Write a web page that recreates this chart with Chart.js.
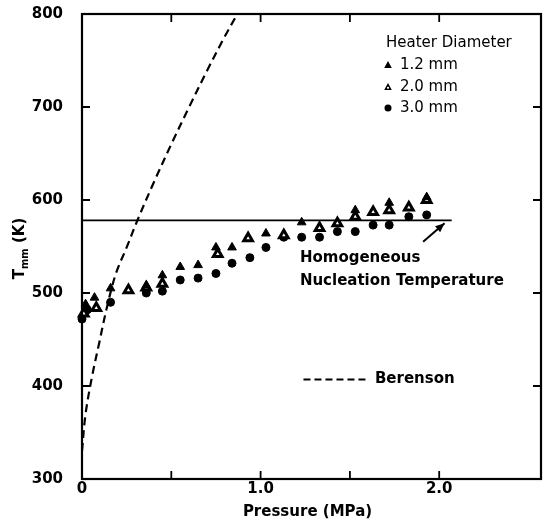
<!DOCTYPE html>
<html>
<head>
<meta charset="utf-8">
<script src="https://cdn.jsdelivr.net/npm/chart.js@4.4.1/dist/chart.umd.min.js"></script>
<style>
  html, body { margin: 0; padding: 0; background: #fff; }
  #wrap { width: 549px; height: 523px; position: relative; }
</style>
</head>
<body>
<div id="wrap"><canvas id="tminChart"></canvas></div>
<script>
// Data (pressure in MPa, temperature in K)
const p12 = [0.02, 0.07, 0.16, 0.36, 0.45, 0.55, 0.65, 0.75, 0.84, 1.03, 1.23, 1.53, 1.72, 1.93];
const t12 = [488, 495, 505, 508, 519, 528, 530, 549, 549, 564, 576, 589, 597, 603];

const p20 = [0.01, 0.08, 0.26, 0.36, 0.45, 0.76, 0.93, 1.13, 1.33, 1.43, 1.53, 1.63, 1.72, 1.83, 1.93];
const t20 = [478, 484, 503, 506, 510, 542, 559, 562, 570, 575, 582, 587, 589, 592, 600];

const p30 = [0.00, 0.03, 0.16, 0.36, 0.45, 0.55, 0.65, 0.75, 0.84, 0.94, 1.03, 1.13, 1.23, 1.33, 1.43, 1.53, 1.63, 1.72, 1.83, 1.93];
const t30 = [472, 482, 490, 500, 502, 514, 516, 521, 532, 538, 549, 560, 560, 560, 566, 566, 573, 573, 582, 584];

// Berenson curve
const berensonP = [0.0, 0.02, 0.056, 0.096, 0.14, 0.19, 0.25, 0.31, 0.40, 0.50, 0.60, 0.70, 0.80, 0.87];
const berensonT = [330, 370, 410, 446, 485, 521, 549, 578, 618, 660, 700, 739, 776, 800];

// Homogeneous nucleation temperature line
const nucleationP = [0, 2.07];
const nucleationT = [578, 578];

const xTickLabels = { 0: '0', 1: '1.0', 2: '2.0' };
const xTickMarks = [0.5, 1.0, 1.5, 2.0];
const yTickMarks = [400, 500, 600, 700];
const legendLabels = ['1.2 mm', '2.0 mm', '3.0 mm'];

function pairs(xs, ys) {
    return xs.map((x, i) => ({ x: x, y: ys[i] }));
}

function drawMarker(ctx, style, x, y) {
    ctx.save();
    ctx.fillStyle = '#000';
    if (style === 'circle') {
        ctx.beginPath();
        ctx.arc(x, y, 3.5, 0, Math.PI * 2);
        ctx.fill();
    } else {
        ctx.beginPath();
        ctx.moveTo(x, y - 4);
        ctx.lineTo(x + 3.8, y + 3);
        ctx.lineTo(x - 3.8, y + 3);
        ctx.closePath();
        ctx.fill();
        if (style === 'open') {
            ctx.fillStyle = '#fff';
            ctx.beginPath();
            ctx.arc(x, y + 0.8, 1.1, 0, Math.PI * 2);
            ctx.fill();
        }
    }
    ctx.restore();
}

// Frame, inward ticks, titles, annotation and the legend box
const decorPlugin = {
    id: 'decor',
    afterDatasetsDraw(chart) {
        const ctx = chart.ctx;
        const area = chart.chartArea;
        const xs = chart.scales.x;
        const ys = chart.scales.y;

        ctx.save();
        ctx.strokeStyle = '#000';
        ctx.lineWidth = 2.2;
        ctx.strokeRect(area.left, area.top, area.right - area.left, area.bottom - area.top);

        ctx.lineWidth = 1.8;
        ctx.beginPath();
        xTickMarks.forEach(v => {
            const px = xs.getPixelForValue(v);
            ctx.moveTo(px, area.bottom); ctx.lineTo(px, area.bottom - 8);
            ctx.moveTo(px, area.top); ctx.lineTo(px, area.top + 8);
        });
        yTickMarks.forEach(v => {
            const py = ys.getPixelForValue(v);
            ctx.moveTo(area.left, py); ctx.lineTo(area.left + 8, py);
            ctx.moveTo(area.right, py); ctx.lineTo(area.right - 8, py);
        });
        ctx.stroke();

        ctx.fillStyle = '#000';
        ctx.textBaseline = 'middle';

        // x axis title
        ctx.font = 'bold 15px "DejaVu Sans"';
        ctx.textAlign = 'center';
        ctx.fillText('Pressure (MPa)', (area.left + area.right) / 2 - 4, 512);

        // y axis title with subscript
        ctx.save();
        ctx.translate(20, (area.top + area.bottom) / 2 + 2);
        ctx.rotate(-Math.PI / 2);
        ctx.textAlign = 'left';
        ctx.font = 'bold 15px "DejaVu Sans"';
        const wT = ctx.measureText('T').width;
        ctx.font = 'bold 10px "DejaVu Sans"';
        const wSub = ctx.measureText('mm').width;
        ctx.font = 'bold 15px "DejaVu Sans"';
        const wK = ctx.measureText(' (K)').width;
        const x0 = -(wT + wSub + wK) / 2;
        ctx.fillText('T', x0, 0);
        ctx.font = 'bold 10px "DejaVu Sans"';
        ctx.fillText('mm', x0 + wT, 5);
        ctx.font = 'bold 15px "DejaVu Sans"';
        ctx.fillText(' (K)', x0 + wT + wSub, 0);
        ctx.restore();

        // annotation
        ctx.textAlign = 'left';
        ctx.font = 'bold 15px "DejaVu Sans"';
        const ax = xs.getPixelForValue(1.22);
        ctx.fillText('Homogeneous', ax, ys.getPixelForValue(537));
        ctx.fillText('Nucleation Temperature', ax, ys.getPixelForValue(513));

        // arrow to the end of the nucleation line
        const tx = xs.getPixelForValue(1.91), ty = ys.getPixelForValue(555);
        const hx = xs.getPixelForValue(2.03), hy = ys.getPixelForValue(575);
        const ang = Math.atan2(hy - ty, hx - tx);
        ctx.lineWidth = 2;
        ctx.beginPath();
        ctx.moveTo(tx, ty); ctx.lineTo(hx, hy);
        ctx.stroke();
        ctx.beginPath();
        ctx.moveTo(hx, hy);
        ctx.lineTo(hx - 10 * Math.cos(ang - 0.4), hy - 10 * Math.sin(ang - 0.4));
        ctx.lineTo(hx - 10 * Math.cos(ang + 0.4), hy - 10 * Math.sin(ang + 0.4));
        ctx.closePath();
        ctx.fill();

        // Berenson key
        ctx.lineWidth = 2;
        ctx.setLineDash([7, 4]);
        ctx.beginPath();
        const by = ys.getPixelForValue(407);
        ctx.moveTo(xs.getPixelForValue(1.24), by);
        ctx.lineTo(xs.getPixelForValue(1.61), by);
        ctx.stroke();
        ctx.setLineDash([]);
        ctx.fillText('Berenson', xs.getPixelForValue(1.64), by);

        // heater diameter legend
        ctx.font = '15px "DejaVu Sans"';
        ctx.fillText('Heater Diameter', 386, 43);
        const styles = ['filled', 'open', 'circle'];
        const rows = [65, 87, 108];
        legendLabels.forEach((lab, i) => {
            drawMarker(ctx, styles[i], 388, rows[i]);
            ctx.fillStyle = '#000';
            ctx.font = '15px "DejaVu Sans"';
            ctx.fillText(lab, 400, rows[i]);
        });
        ctx.restore();
    }
};

new Chart(document.getElementById('tminChart'), {
    type: 'scatter',
    data: {
        datasets: [
            {
                label: 'Berenson',
                data: pairs(berensonP, berensonT),
                showLine: true,
                borderColor: '#000',
                borderWidth: 2.2,
                borderDash: [8, 5],
                tension: 0.35,
                pointRadius: 0
            },
            {
                label: 'Homogeneous Nucleation Temperature',
                data: pairs(nucleationP, nucleationT),
                showLine: true,
                borderColor: '#000',
                borderWidth: 1.8,
                pointRadius: 0
            },
            {
                label: '1.2 mm',
                data: pairs(p12, t12),
                pointStyle: 'triangle',
                pointRadius: 5,
                backgroundColor: '#000',
                borderColor: '#000',
                borderWidth: 1,
                clip: false
            },
            {
                label: '2.0 mm',
                data: pairs(p20, t20),
                pointStyle: 'triangle',
                pointRadius: 5,
                backgroundColor: '#fff',
                borderColor: '#000',
                borderWidth: 3,
                clip: false
            },
            {
                label: '3.0 mm',
                data: pairs(p30, t30),
                pointStyle: 'circle',
                pointRadius: 4,
                backgroundColor: '#000',
                borderColor: '#000',
                borderWidth: 1,
                clip: false
            }
        ]
    },
    options: {
        responsive: true,
        maintainAspectRatio: false,
        animation: false,
        layout: { padding: { top: 14, right: 0, left: 0, bottom: 0 } },
        plugins: {
            legend: { display: false },
            tooltip: { enabled: false }
        },
        scales: {
            x: {
                type: 'linear',
                min: 0,
                max: 2.57,
                grid: { display: false, drawTicks: false },
                border: { display: false },
                ticks: {
                    stepSize: 0.5,
                    padding: 1,
                    color: '#000',
                    font: { family: 'DejaVu Sans', size: 15, weight: 'bold' },
                    maxRotation: 0,
                    autoSkip: false,
                    callback: function(value) {
                        return xTickLabels[value] !== undefined ? xTickLabels[value] : '';
                    }
                },
                afterFit: function(scale) {
                    scale.height = 44;
                    scale.paddingLeft = 0;
                    scale.paddingRight = 0;
                }
            },
            y: {
                min: 300,
                max: 800,
                grid: { display: false, drawTicks: false },
                border: { display: false },
                ticks: {
                    stepSize: 100,
                    padding: 19,
                    color: '#000',
                    font: { family: 'DejaVu Sans', size: 15, weight: 'bold' }
                },
                afterFit: function(scale) {
                    scale.width = 82;
                    scale.paddingTop = 0;
                    scale.paddingBottom = 0;
                }
            }
        }
    },
    plugins: [decorPlugin]
});
</script>
</body>
</html>
